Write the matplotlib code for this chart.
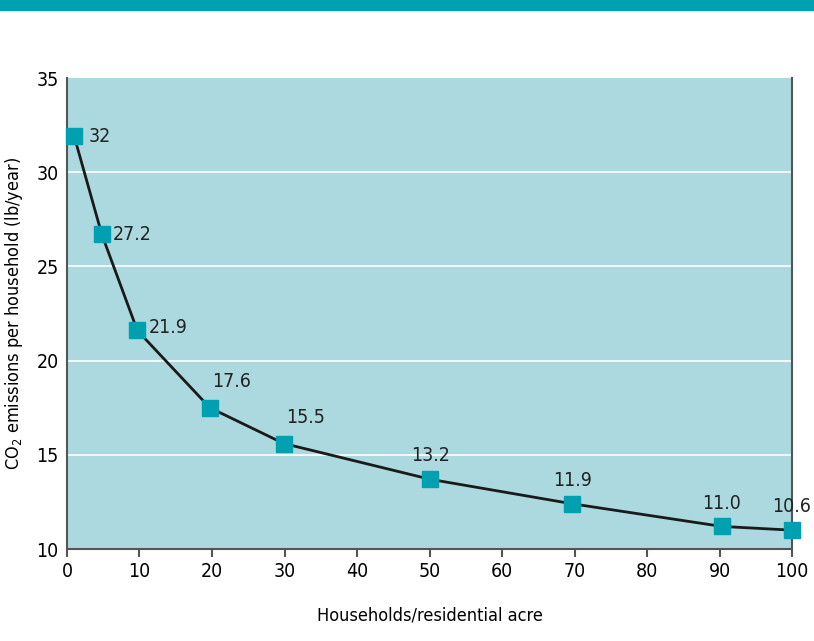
import matplotlib.pyplot as plt
import matplotlib.patches as mpatches

plt.rcParams['font.family'] = ['DejaVu Sans']
plt.rcParams['font.stretch'] = 'condensed'

# data
density = [1, 4.8, 9.7, 19.7, 29.9, 50.1, 69.7, 90.3, 100]
emissions = [31.9, 26.7, 21.6, 17.5, 15.6, 13.7, 12.4, 11.2, 11.0]
labels = ['32', '27.2', '21.9', '17.6', '15.5', '13.2', '11.9', '11.0', '10.6']

teal = '#00a0b0'
bg = '#acd9df'

fig = plt.figure(figsize=(8.14, 6.41), dpi=100)
ax = fig.add_axes([0.0823, 0.1435, 0.8907, 0.7348])

# top bar
fig.patches.append(mpatches.Rectangle((0, 0.984), 1, 0.016, transform=fig.transFigure,
                                      color=teal, zorder=0))

ax.set_facecolor(bg)
ax.set_xlim(0, 100)
ax.set_ylim(10, 35)
ax.set_xticks(range(0, 101, 10))
ax.set_yticks(range(10, 36, 5))
for yv in [15, 20, 25, 30]:
    ax.axhline(yv, color='white', lw=1.2, zorder=1)

ax.plot(density, emissions, color='#1a1a1a', lw=2, zorder=2, clip_on=False)
ax.plot(density, emissions, 's', color=teal, ms=11, zorder=3, clip_on=False)

# value labels
offsets = [(10, 0, 'left', 'center'), (8, 0, 'left', 'center'), (8, 2, 'left', 'center'),
           (2, 12, 'left', 'bottom'), (2, 12, 'left', 'bottom'),
           (0, 10, 'center', 'bottom'), (0, 10, 'center', 'bottom'),
           (0, 10, 'center', 'bottom'), (0, 10, 'center', 'bottom')]
for x, y, t, (dx, dy, ha, va) in zip(density, emissions, labels, offsets):
    ax.annotate(t, (x, y), xytext=(dx, dy), textcoords='offset points',
                ha=ha, va=va, fontsize=14, color='#222222', zorder=4)

for s in ['left', 'bottom', 'right']:
    ax.spines[s].set_color('#555555')
    ax.spines[s].set_linewidth(1.5)
ax.spines['top'].set_visible(False)
ax.tick_params(axis='x', length=6, width=1.5, color='#555555', labelsize=14, direction='out')
ax.tick_params(axis='y', length=0, labelsize=14, pad=6)

ax.set_xlabel('Households/residential acre', fontsize=13, labelpad=18)
ax.set_ylabel('CO$_2$ emissions per household (lb/year)', fontsize=13, labelpad=8)

fig.savefig('out.png', dpi=100)
